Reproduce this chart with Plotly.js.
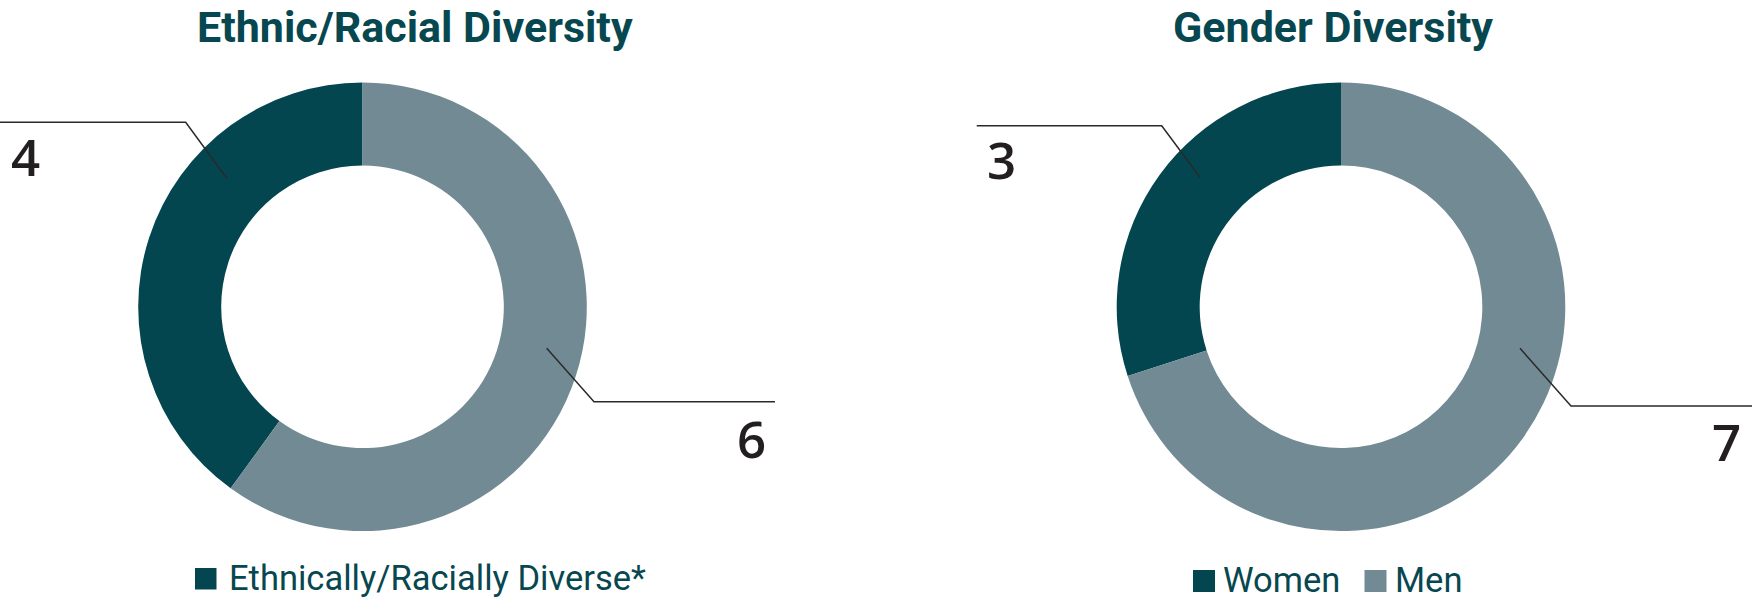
<!DOCTYPE html>
<html>
<head>
<meta charset="utf-8">
<script src="https://cdn.plot.ly/plotly-3.0.1.min.js"></script>
<style>html,body{margin:0;padding:0;background:#fff;}#chart{width:1752px;height:602px;}</style>
</head>
<body>
<div id="chart"></div>
<script>
// ---- data ----
const chartTitles = ['Ethnic/Racial Diversity', 'Gender Diversity'];
const ethnicLabels = ['Ethnically/Racially Diverse*', 'Not Ethnically/Racially Diverse'];
const ethnicValues = [4, 6];
const ethnicLegendLabels = ['Ethnically/Racially Diverse*'];
const genderLabels = ['Women', 'Men'];
const genderValues = [3, 7];
const genderLegendLabels = ['Women', 'Men'];
const sliceColors = ['#03464f', '#728a93'];

// ---- layout helpers ----
const W = 1752, H = 602;
const TEAL = '#07474f';
const px = x => x / W;
const py = y => 1 - y / H;
const sum = a => a.reduce((s, v) => s + v, 0);
// first slice ends at 12 o'clock, drawn going counter-clockwise from there
const startAngle = vals => -360 * vals[0] / sum(vals);
function pathOf(pts) {
  return pts.map((p, i) => (i ? 'L ' : 'M ') + px(p[0]).toFixed(5) + ' ' + py(p[1]).toFixed(5)).join(' ');
}
function leader(pts) {
  return {type: 'path', xref: 'paper', yref: 'paper', path: pathOf(pts),
          line: {color: '#2a2a2a', width: 1.5}};
}
function square(x0, y0, size, color) {
  return {type: 'rect', xref: 'paper', yref: 'paper', x0: px(x0), x1: px(x0 + size),
          y0: py(y0 + size), y1: py(y0), fillcolor: color, line: {width: 0}};
}
function txt(text, x, y, opts) {
  return Object.assign({text: text, x: px(x), y: py(y), xref: 'paper', yref: 'paper',
    showarrow: false, xanchor: 'center', yanchor: 'middle'}, opts);
}
const numFont = {family: '"Open Sans", sans-serif', size: 51, color: '#231f20', weight: 600};
const titleFont = {family: 'Roboto, sans-serif', size: 43, color: TEAL, weight: 700};
const legFont = {family: 'Roboto, sans-serif', size: 34.5, color: TEAL};

const pieDomY = [py(306.8 + 224.3), py(306.8 - 224.3)];
const traces = [
  {type: 'pie', labels: ethnicLabels, values: ethnicValues, hole: 0.63, sort: false,
   direction: 'clockwise', rotation: startAngle(ethnicValues), textinfo: 'none', hoverinfo: 'label+value',
   marker: {colors: sliceColors, line: {width: 0}}, showlegend: false,
   domain: {x: [px(362.5 - 224.3), px(362.5 + 224.3)], y: pieDomY}},
  {type: 'pie', labels: genderLabels, values: genderValues, hole: 0.63, sort: false,
   direction: 'clockwise', rotation: startAngle(genderValues), textinfo: 'none', hoverinfo: 'label+value',
   marker: {colors: sliceColors, line: {width: 0}}, showlegend: false,
   domain: {x: [px(1341 - 224.3), px(1341 + 224.3)], y: pieDomY}}
];

const shapes = [
  leader([[0, 122.3], [185.7, 122.3], [226.7, 178.3]]),
  leader([[546.7, 348.3], [594, 401.7], [775, 401.7]]),
  leader([[976.7, 125.7], [1161.7, 125.7], [1200, 177.3]]),
  leader([[1520, 348.3], [1571, 406], [1752, 406]]),
  square(195, 568, 21.5, sliceColors[0]),
  square(1193, 570, 22, sliceColors[0]),
  square(1364.5, 570, 22, sliceColors[1])
];

const annotations = [
  txt(chartTitles[0], 415, 0, {font: titleFont, yanchor: 'top'}),
  txt(chartTitles[1], 1333.3, 0, {font: titleFont, yanchor: 'top'}),
  txt(String(ethnicValues[0]), 25, 155.5, {font: numFont}),
  txt(String(ethnicValues[1]), 751, 438, {font: numFont}),
  txt(String(genderValues[0]), 1001, 159.3, {font: numFont}),
  txt(String(genderValues[1]), 1726.5, 441, {font: numFont}),
  txt(ethnicLegendLabels[0], 227, 578, {font: legFont, xanchor: 'left'}),
  txt(genderLegendLabels[0], 1221, 580, {font: legFont, xanchor: 'left'}),
  txt(genderLegendLabels[1], 1393, 580, {font: legFont, xanchor: 'left'})
];

const layout = {
  width: W, height: H, margin: {l: 0, r: 0, t: 0, b: 0, pad: 0},
  paper_bgcolor: '#ffffff', plot_bgcolor: '#ffffff', showlegend: false,
  shapes: shapes, annotations: annotations
};
Plotly.newPlot('chart', traces, layout, {displayModeBar: false, staticPlot: true});
</script>
</body>
</html>
